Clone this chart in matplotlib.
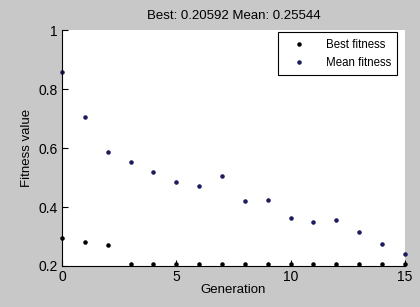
import matplotlib
matplotlib.use("Agg")
import matplotlib.pyplot as plt

generations = list(range(16))
best_fitness = [0.295, 0.281, 0.271, 0.206, 0.206, 0.206, 0.206, 0.206,
                0.206, 0.206, 0.206, 0.206, 0.206, 0.206, 0.206, 0.206]
mean_fitness = [0.857, 0.704, 0.585, 0.552, 0.518, 0.484, 0.470, 0.506,
                0.419, 0.425, 0.363, 0.349, 0.356, 0.315, 0.275, 0.242]
title_text = "Best: 0.20592 Mean: 0.25544"
xticks = [0, 5, 10, 15]
yticks = [0.2, 0.4, 0.6, 0.8, 1]

plt.rcParams['font.family'] = ['Liberation Sans', 'DejaVu Sans']
fig = plt.figure(figsize=(4.2, 3.07), dpi=100, facecolor='#c8c8c8')
ax = fig.add_axes([0.1476, 0.1336, 0.8164, 0.7684])
ax.set_facecolor('white')

ax.plot(generations, best_fitness, linestyle='none', marker='.', markersize=4.5,
        color='black', label='Best fitness', clip_on=False)
ax.plot(generations, mean_fitness, linestyle='none', marker='.', markersize=4.5,
        color='#1c1c5e', label='Mean fitness', clip_on=False)

ax.set_xlim(0, 15)
ax.set_ylim(0.2, 1)
ax.set_xticks(xticks)
ax.set_xticklabels([str(t) for t in xticks])
ax.set_yticks(yticks)
ax.set_yticklabels(['0.2', '0.4', '0.6', '0.8', '1'])
ax.tick_params(direction='in', length=4, labelsize=10, pad=3, width=0.8)
for s in ['top', 'right']:
    ax.spines[s].set_visible(False)
for s in ['left', 'bottom']:
    ax.spines[s].set_linewidth(0.8)

ax.set_title(title_text, fontsize=9.5, pad=8)
ax.set_xlabel('Generation', fontsize=9.5, labelpad=0)
ax.set_ylabel('Fitness value', fontsize=9.5, labelpad=4)

leg = ax.legend(loc='upper right', bbox_to_anchor=(0.985, 1.0), fontsize=8.3,
                fancybox=False, framealpha=1, edgecolor='black',
                borderpad=0.55, handlelength=2.6, handletextpad=1.0,
                labelspacing=0.55, markerscale=1, borderaxespad=0.2)
leg.get_frame().set_linewidth(0.8)

fig.savefig('out.png', dpi=100, facecolor=fig.get_facecolor())
